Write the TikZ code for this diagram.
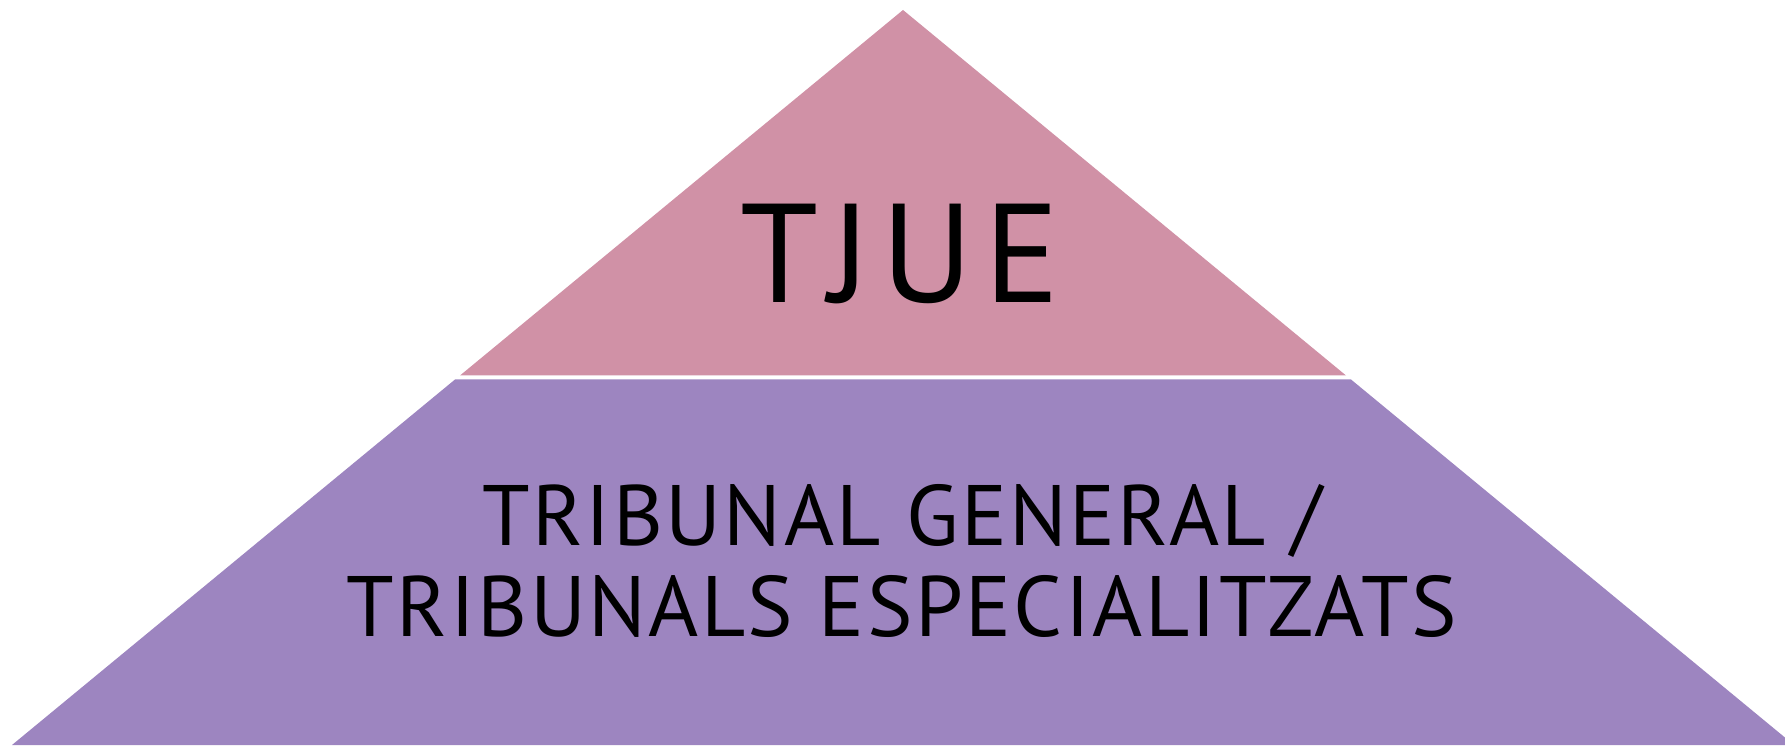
\documentclass[tikz,border=0pt]{standalone}
\usepackage{fontspec}
\setmainfont{PT Sans}
\usetikzlibrary{positioning}
\definecolor{topcolor}{RGB}{208,145,166}
\definecolor{basecolor}{RGB}{157,133,192}

\begin{document}
\begin{tikzpicture}[
    toptext/.style={font=\fontsize{40}{48}\selectfont\addfontfeature{LetterSpace=7.8}, inner sep=0pt},
    basetext/.style={font=\fontsize{24.4}{25.9}\selectfont\addfontfeature{LetterSpace=2.8}, align=center, inner sep=0pt}
]
\useasboundingbox (0,0) rectangle (17.85,7.45);
\clip (0,0) rectangle (17.85,7.45);
% top level and base level of the pyramid
\fill[topcolor] (9.03,7.35) -- (13.46,3.695) -- (4.60,3.695) -- cycle;
\fill[basecolor] (4.55,3.655) -- (13.51,3.655) -- (17.94,0) -- (0.12,0) -- cycle;

\node[toptext, anchor=base] (tjue) at (9.00,4.42) {TJUE};
\node[basetext] (tribunals) at (9.02,1.84) {TRIBUNAL GENERAL /\\TRIBUNALS ESPECIALITZATS};
\end{tikzpicture}
\end{document}
